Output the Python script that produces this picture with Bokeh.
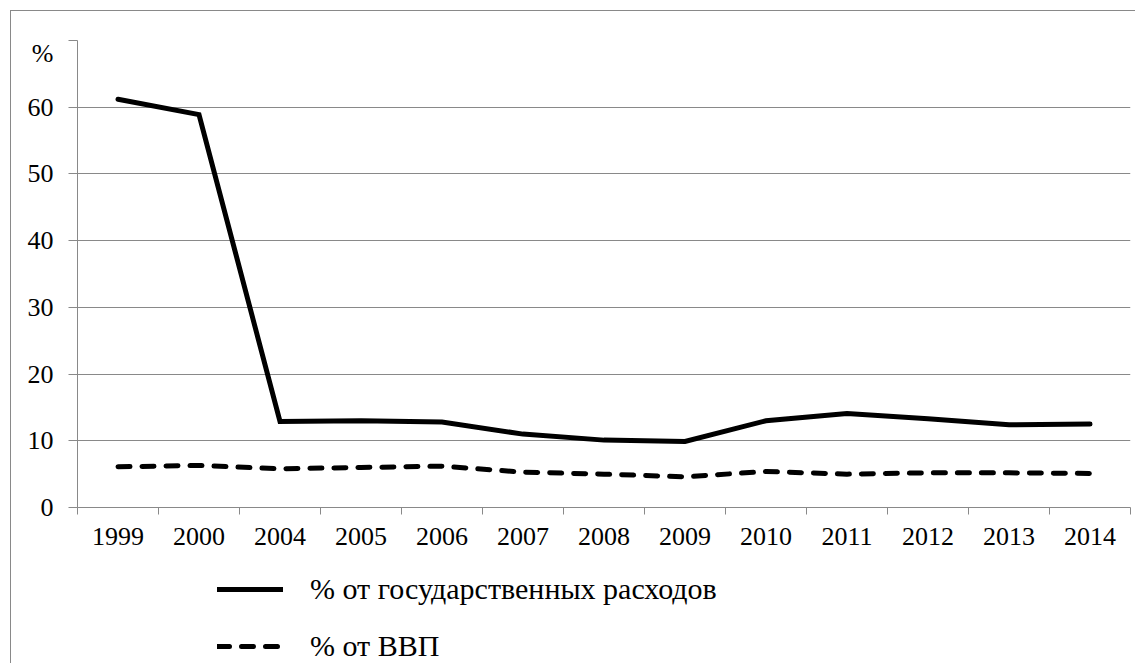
from bokeh.plotting import figure
from bokeh.layouts import column
from bokeh.models import (Range1d, FixedTicker, Legend, LegendItem,
                          ColumnDataSource)
from bokeh.embed import file_html
from bokeh.resources import INLINE

# ---- data ----
years = ["1999", "2000", "2004", "2005", "2006", "2007", "2008",
         "2009", "2010", "2011", "2012", "2013", "2014"]
gov_spending_pct = [61.2, 58.9, 12.9, 13.0, 12.8, 11.0, 10.1,
                    9.9, 13.0, 14.1, 13.3, 12.4, 12.5]
gdp_pct = [6.1, 6.3, 5.8, 6.0, 6.2, 5.3, 5.0,
           4.6, 5.4, 5.0, 5.2, 5.2, 5.1]
y_grid_ticks = [0, 10, 20, 30, 40, 50, 60, 70]
y_label_ticks = [0, 10, 20, 30, 40, 50, 60]
series_labels = ["% от государственных расходов", "% от ВВП"]
y_unit = "%"
y_unit_pos = 68.0

n = len(years)
centers = [i + 0.5 for i in range(n)]
bounds = list(range(n + 1))
src = ColumnDataSource(dict(x=centers, year=years,
                            gov=gov_spending_pct, gdp=gdp_pct))

FONT = "Liberation Serif"
GRAY = "#898989"
W = 1124

SOLID = dict(line_width=5, line_color="black", line_join="miter", line_cap="round")
DASHED = dict(line_width=5, line_color="black", line_dash="12 12", line_cap="round")

# ---------------- chart ----------------
p = figure(width=W, height=556, output_backend="svg", toolbar_location=None,
           x_range=Range1d(0, n), y_range=Range1d(0, 70),
           min_border_left=66, min_border_right=5,
           min_border_top=29, min_border_bottom=60,
           background_fill_color="white", border_fill_color="white")
p.outline_line_color = None

# x axis: labels at category centres, ticks at category boundaries
xa = p.xaxis[0]
xa.ticker = FixedTicker(ticks=centers, minor_ticks=bounds)
xa.major_label_overrides = {c: y for c, y in zip(centers, years)}
xa.major_tick_line_color = None
xa.major_tick_out = 0
xa.major_tick_in = 0
xa.minor_tick_line_color = GRAY
xa.minor_tick_out = 7
xa.minor_tick_in = 0
xa.axis_line_color = GRAY
xa.major_label_standoff = 13
xa.major_label_text_font = FONT
xa.major_label_text_font_size = "26px"
xa.major_label_text_color = "black"
p.xgrid.visible = False

# y axis: tick marks (minor) at grid lines, labels incl. the unit sign
ya = p.yaxis[0]
ya.ticker = FixedTicker(ticks=y_label_ticks + [y_unit_pos], minor_ticks=y_grid_ticks)
ya.major_label_overrides = {y_unit_pos: y_unit}
ya.major_tick_line_color = None
ya.major_tick_out = 9
ya.major_tick_in = 0
ya.minor_tick_line_color = GRAY
ya.minor_tick_out = 9
ya.minor_tick_in = 0
ya.axis_line_color = GRAY
ya.major_label_standoff = 15
ya.major_label_text_font = FONT
ya.major_label_text_font_size = "26px"
ya.major_label_text_color = "black"
p.ygrid.ticker = FixedTicker(ticks=y_grid_ticks)
p.ygrid.grid_line_color = GRAY
p.ygrid.grid_line_width = 1

p.line("x", "gov", source=src, **SOLID)
p.line("x", "gdp", source=src, **DASHED)

# ---------------- legend strip (same series; lines fall outside its view) ----
p2 = figure(width=W, height=96, output_backend="svg", toolbar_location=None,
            x_range=Range1d(0, 1), y_range=Range1d(0, 1),
            x_axis_type=None, y_axis_type=None,
            min_border=0, min_border_left=0, min_border_right=0,
            min_border_top=0, min_border_bottom=0,
            background_fill_color="white", border_fill_color="white")
p2.outline_line_color = None
p2.grid.visible = False
l1 = p2.line("x", "gov", source=src, **SOLID)
l2 = p2.line("x", "gdp", source=src, **DASHED)

legend = Legend(items=[LegendItem(label=series_labels[0], renderers=[l1]),
                       LegendItem(label=series_labels[1], renderers=[l2])],
                location=(140, 0), orientation="vertical",
                glyph_width=66, glyph_height=30, label_height=30,
                label_standoff=27, spacing=23, padding=0, margin=0,
                border_line_color=None, background_fill_alpha=0,
                label_text_font=FONT, label_text_font_size="30px",
                label_text_color="black", label_text_baseline="middle")
p2.add_layout(legend)

layout = column(p, p2, spacing=0,
                styles={"border-left": f"1px solid {GRAY}",
                        "border-top": f"1px solid {GRAY}",
                        "margin-left": "10px", "margin-top": "10px"})

open("out.html", "w").write(file_html(layout, INLINE))
